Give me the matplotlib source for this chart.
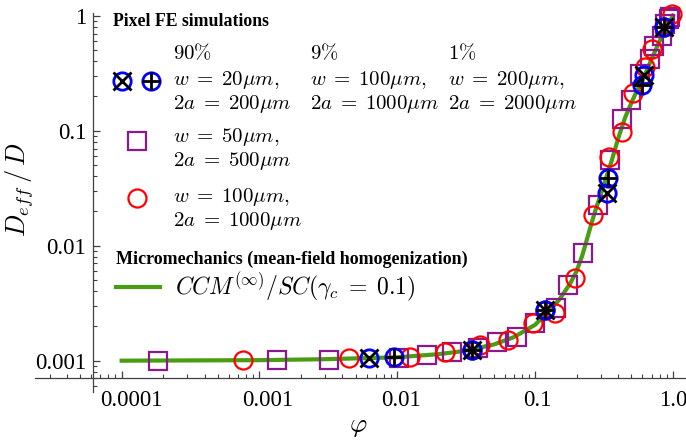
import numpy as np
import matplotlib
matplotlib.use('Agg')
import matplotlib.pyplot as plt
from matplotlib.ticker import FixedLocator, FixedFormatter, LogLocator, NullFormatter

matplotlib.rcParams['font.family'] = 'serif'
matplotlib.rcParams['font.serif'] = ['Liberation Serif', 'DejaVu Serif']
matplotlib.rcParams['mathtext.fontset'] = 'cm'

# micromechanics curve CCM/SC
curve_phi = [1e-4, 1e-3, 3e-3, 1e-2, 2e-2, 3e-2, 5e-2, 7e-2, 0.1, 0.13, 0.15, 0.18,
             0.2, 0.22, 0.24, 0.26, 0.28, 0.3, 0.33, 0.36, 0.4, 0.45, 0.5, 0.55,
             0.6, 0.7, 0.8, 0.9, 1.0]
curve_d = [0.00100, 0.00101, 0.00103, 0.00107, 0.00114, 0.00121, 0.00138, 0.00160,
           0.00205, 0.0028, 0.0034, 0.0047, 0.0060, 0.0082, 0.0118, 0.0165, 0.022,
           0.028, 0.040, 0.055, 0.085, 0.13, 0.175, 0.225, 0.27, 0.42, 0.60, 0.80, 1.0]

# three-phase pixel FE (90% / 9% / 1%)
cross_phi = [0.0062, 0.0347, 0.118, 0.331, 0.617, 0.86]
cross_d = [0.00105, 0.00124, 0.00276, 0.0286, 0.305, 0.79]
plus_phi = [0.0094, 0.0347, 0.118, 0.340, 0.594, 0.86]
plus_d = [0.00108, 0.00124, 0.00276, 0.0386, 0.249, 0.79]

# w = 50um, 2a = 500um
sq_phi = [1.83e-4, 1.35e-3, 3.18e-3, 0.0103, 0.0163, 0.0248, 0.0385, 0.0526, 0.0735,
          0.0998, 0.143, 0.174, 0.224, 0.288, 0.350, 0.43, 0.50, 0.58, 0.68, 0.73,
          0.83, 0.88, 0.93, 0.96]
sq_d = [0.00100, 0.00101, 0.00102, 0.00106, 0.00112, 0.00120, 0.00129, 0.00146,
        0.00162, 0.00214, 0.0029, 0.00455, 0.0086, 0.0226, 0.0556, 0.126, 0.185,
        0.31, 0.42, 0.55, 0.665, 0.84, 0.93, 0.98]

# w = 100um, 2a = 1000um
circ_phi = [7.6e-4, 4.5e-3, 0.0124, 0.0222, 0.0398, 0.064, 0.097, 0.139, 0.195,
            0.265, 0.346, 0.425, 0.516, 0.627, 0.70, 0.98]
circ_d = [0.00101, 0.00105, 0.00108, 0.00120, 0.00137, 0.00151, 0.00211, 0.0026,
          0.0052, 0.0185, 0.0587, 0.098, 0.211, 0.36, 0.51, 1.04]

xticks = [1e-4, 1e-3, 1e-2, 1e-1, 1.0]
xlabels = ['0.0001', '0.001', '0.01', '0.1', '1.0']
yticks = [1e-3, 1e-2, 1e-1, 1.0]
ylabels = ['0.001', '0.01', '0.1', '1']

W, H = 686, 443
fig = plt.figure(figsize=(W/100, H/100), dpi=100)
ax = fig.add_axes([35/W, 1-392/H, 651/W, 379/H])
ax.set_xscale('log')
ax.set_yscale('log')
ax.set_xlim(2.35e-5, 1.245)
ax.set_ylim(5.34e-4, 1.056)

green = '#4a9c12'
purple = '#8a1a8c'
ms = 13
ax.plot(curve_phi, curve_d, '-', color=green, lw=3.0, zorder=2)
ax.plot(sq_phi, sq_d, 's', mfc='none', mec=purple, ms=ms, mew=1.6, zorder=3, clip_on=False)
ax.plot(circ_phi, circ_d, 'o', mfc='none', mec='red', ms=ms, mew=1.6, zorder=3, clip_on=False)
ax.plot(cross_phi, cross_d, 'o', mfc='none', mec='blue', ms=12.5, mew=2.0, zorder=4, clip_on=False)
ax.plot(plus_phi, plus_d, 'o', mfc='none', mec='blue', ms=12.5, mew=2.0, zorder=4, clip_on=False)
ax.plot(cross_phi, cross_d, 'x', color='black', ms=13, mew=2.0, zorder=5, clip_on=False)
ax.plot(plus_phi, plus_d, '+', color='black', ms=13, mew=2.0, zorder=5, clip_on=False)

# Mathematica-like crossing axes
axc = '#404040'
for s in ['top', 'right']:
    ax.spines[s].set_visible(False)
ax.spines['left'].set_position(('data', 6.19e-5))
ax.spines['bottom'].set_position(('data', 7.11e-4))
ax.spines['left'].set_color(axc)
ax.spines['bottom'].set_color(axc)
ax.spines['left'].set_linewidth(0.9)
ax.spines['bottom'].set_linewidth(0.9)

ax.xaxis.set_major_locator(FixedLocator(xticks))
ax.xaxis.set_major_formatter(FixedFormatter(xlabels))
ax.yaxis.set_major_locator(FixedLocator(yticks))
ax.yaxis.set_major_formatter(FixedFormatter(ylabels))
ax.xaxis.set_minor_locator(LogLocator(base=10, subs=np.arange(2, 10), numticks=20))
ax.yaxis.set_minor_locator(LogLocator(base=10, subs=np.arange(2, 10), numticks=20))
ax.xaxis.set_minor_formatter(NullFormatter())
ax.yaxis.set_minor_formatter(NullFormatter())
ax.tick_params(which='major', direction='in', length=5, width=0.9, color=axc,
               labelsize=16.5, labelcolor='black')
ax.tick_params(which='minor', direction='in', length=2.8, width=0.8, color=axc)
ax.tick_params(axis='x', which='major', pad=9)
ax.tick_params(axis='y', which='major', pad=5)
# Mathematica puts the labels a touch right of the ticks
for lab, dx in zip(ax.get_xticklabels(), [10, 8, 4, 2, 0]):
    lab.set_x(lab.get_position()[0])
    lab.set_transform(lab.get_transform() + matplotlib.transforms.ScaledTranslation(dx/100, 0, fig.dpi_scale_trans))

fig.text(20/W, 1-190/H, r'$D_{eff}\,/\,D$', fontsize=19, rotation=90, ha='center', va='center')
fig.text(358/W, 1-428/H, r'$\varphi$', fontsize=19, ha='center', va='center')

# hand-built legend
def P(x, y):
    return x/W, 1-y/H

mt = 15
fig.text(*P(113, 22), 'Pixel FE simulations', fontsize=12.8, fontweight='bold', va='center')
for x0, pct, l1, l2 in [(173, '90\\%', 'w\\;=\\;20\\mu m,', '2a\\;=\\;200\\mu m'),
                        (310, '9\\%', 'w\\;=\\;100\\mu m,', '2a\\;=\\;1000\\mu m'),
                        (448, '1\\%', 'w\\;=\\;200\\mu m,', '2a\\;=\\;2000\\mu m')]:
    fig.text(*P(x0, 54), '$' + pct + '$', fontsize=mt, va='center')
    fig.text(*P(x0, 80), '$' + l1 + '$', fontsize=mt, va='center')
    fig.text(*P(x0, 104), '$' + l2 + '$', fontsize=mt, va='center')
fig.text(*P(173, 137), r'$w\;=\;50\mu m,$', fontsize=mt, va='center')
fig.text(*P(173, 161), r'$2a\;=\;500\mu m$', fontsize=mt, va='center')
fig.text(*P(173, 197), r'$w\;=\;100\mu m,$', fontsize=mt, va='center')
fig.text(*P(173, 221), r'$2a\;=\;1000\mu m$', fontsize=mt, va='center')
fig.text(*P(116, 259), 'Micromechanics (mean-field homogenization)', fontsize=13,
         fontweight='bold', va='center')
fig.text(*P(175, 287), r'$CCM^{(\infty)}/SC(\gamma_c\;=\;0.1)$', fontsize=17, va='center')

tr = fig.transFigure
for (x, y), m, c, s, w in [((122, 81), 'o', 'blue', 12.5, 2.0), ((122, 81), 'x', 'black', 13, 2.0),
                           ((151, 81), 'o', 'blue', 12.5, 2.0), ((151, 81), '+', 'black', 13, 2.0),
                           ((137, 141), 's', purple, ms, 1.6), ((137, 198), 'o', 'red', ms, 1.6)]:
    fx, fy = P(x, y)
    fig.lines.append(plt.Line2D([fx], [fy], marker=m, mfc='none', mec=c, ms=s, mew=w,
                                ls='none', transform=tr))
fx0, fy0 = P(116, 287)
fx1, _ = P(160, 287)
fig.lines.append(plt.Line2D([fx0, fx1], [fy0, fy0], color=green, lw=3.0, transform=tr))

fig.savefig('out.png', dpi=100)
